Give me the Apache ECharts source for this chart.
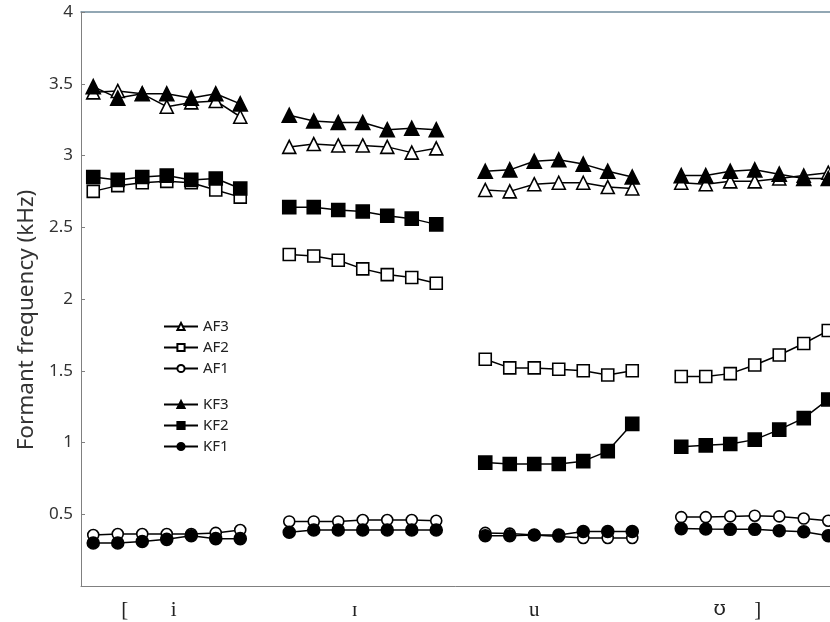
<!DOCTYPE html>
<html>
<head>
<meta charset="utf-8">
<script src="https://cdn.jsdelivr.net/npm/echarts@6/dist/echarts.min.js"></script>
<style>
  html, body { margin: 0; padding: 0; background: #fff; }
  #chart { width: 830px; height: 622px; }
</style>
</head>
<body>
<div id="chart"></div>
<script>
// one gap category between vowel groups, 7 speakers/points per group
const xTickLabels = ['', '[', '', 'i', '', '', '', '',
  '', '', '', 'ɪ', '', '', '', '',
  '', '', 'u', '', '', '', '', '',
  '', 'ʊ', '', ']', '', '', '', '', '']
const yTicks = [0, 0.5, 1, 1.5, 2, 2.5, 3, 3.5, 4]

const AF3 = [[3.44, 3.45, 3.43, 3.34, 3.37, 3.38, 3.27], [3.06, 3.08, 3.07, 3.07, 3.06, 3.02, 3.05], [2.76, 2.75, 2.80, 2.81, 2.81, 2.78, 2.77], [2.81, 2.80, 2.82, 2.82, 2.84, 2.86, 2.88]]
const AF2 = [[2.75, 2.79, 2.81, 2.82, 2.81, 2.76, 2.71], [2.31, 2.30, 2.27, 2.21, 2.17, 2.15, 2.11], [1.58, 1.52, 1.52, 1.51, 1.50, 1.47, 1.50], [1.46, 1.46, 1.48, 1.54, 1.61, 1.69, 1.78]]
const AF1 = [[0.355, 0.362, 0.362, 0.362, 0.362, 0.37, 0.39], [0.45, 0.45, 0.45, 0.46, 0.46, 0.46, 0.455], [0.37, 0.365, 0.355, 0.345, 0.335, 0.335, 0.335], [0.48, 0.48, 0.485, 0.49, 0.485, 0.47, 0.455]]
const KF3 = [[3.48, 3.40, 3.43, 3.43, 3.40, 3.43, 3.36], [3.28, 3.24, 3.23, 3.23, 3.18, 3.19, 3.18], [2.89, 2.90, 2.96, 2.97, 2.94, 2.89, 2.85], [2.86, 2.86, 2.89, 2.90, 2.87, 2.84, 2.84]]
const KF2 = [[2.85, 2.83, 2.85, 2.86, 2.83, 2.84, 2.77], [2.64, 2.64, 2.62, 2.61, 2.58, 2.56, 2.52], [0.86, 0.85, 0.85, 0.85, 0.87, 0.94, 1.13], [0.97, 0.98, 0.99, 1.02, 1.09, 1.17, 1.30]]
const KF1 = [[0.30, 0.30, 0.31, 0.325, 0.35, 0.33, 0.33], [0.375, 0.39, 0.39, 0.39, 0.39, 0.39, 0.39], [0.35, 0.35, 0.355, 0.355, 0.38, 0.38, 0.38], [0.40, 0.397, 0.395, 0.395, 0.385, 0.378, 0.35]]

// groups joined with a '-' so the line breaks between vowels
function flat(groups) {
  let out = []
  groups.forEach((g, i) => {
    if (i > 0) out.push('-')
    out = out.concat(g)
  })
  return out
}

function mkSeries(name, groups, symbol, size, filled) {
  return {
    name: name,
    type: 'line',
    data: flat(groups),
    symbol: symbol,
    symbolSize: size,
    showAllSymbol: true,
    lineStyle: { color: '#000', width: 1.5 },
    itemStyle: { color: filled ? '#000' : '#fff', borderColor: '#000', borderWidth: 1.6 },
    emphasis: { disabled: true },
    animation: false
  }
}

const legendText = { fontFamily: 'Noto Sans', fontSize: 15, color: '#222' }
const ipaFont = 'Liberation Serif, DejaVu Serif'

const myEcharts = echarts.init(document.getElementById('chart'))
myEcharts.setOption({
  backgroundColor: '#fff',
  // plot runs past the right edge of the picture, as in the original
  grid: { left: 81, top: 12, width: 808.5, height: 574, containLabel: false, outerBoundsMode: 'none' },
  legend: [{
    data: ['AF3', 'AF2', 'AF1'],
    orient: 'vertical', left: 158, top: 314,
    itemWidth: 34, itemHeight: 9, itemGap: 6,
    textStyle: legendText
  }, {
    data: ['KF3', 'KF2', 'KF1'],
    orient: 'vertical', left: 158, top: 392,
    itemWidth: 34, itemHeight: 9, itemGap: 6,
    textStyle: legendText
  }],
  xAxis: [{
    type: 'category',
    data: xTickLabels,
    boundaryGap: true,
    axisLine: { lineStyle: { color: '#808080', width: 1 } },
    axisTick: { inside: true, length: 4, interval: 0, lineStyle: { color: '#808080' } },
    axisLabel: {
      interval: 0, margin: 14, color: '#222',
      fontFamily: ipaFont, fontSize: 21,
      formatter: (v) => {
        if (v === '[' || v === 'i') return '{r|' + v + '}'
        if (v === 'ɪ') return '{l|' + v + '}'
        if (v === 'ʊ') return '{rr|' + v + '}'
        if (v === ']') return '{s|' + v + '}'
        return v
      },
      rich: {
        r: { padding: [0, 0, 0, 14], fontSize: 21, fontFamily: ipaFont },
        l: { padding: [0, 16, 0, 0], fontSize: 21, fontFamily: ipaFont },
        rr: { padding: [0, 0, 0, 28], fontSize: 20, fontFamily: 'DejaVu Serif' },
        s: { padding: [0, 0, 0, 6], fontSize: 21, fontFamily: ipaFont }
      }
    },
    splitLine: { show: false }
  }, {
    type: 'category',
    position: 'top',
    data: xTickLabels,
    axisLine: { lineStyle: { color: '#6f8b9c', width: 1.5 } },
    axisTick: { show: false },
    axisLabel: { show: false }
  }],
  yAxis: {
    type: 'value',
    min: yTicks[0], max: yTicks[yTicks.length - 1], interval: 0.5,
    name: 'Formant frequency (kHz)',
    nameLocation: 'middle', nameRotate: 90, nameGap: 43,
    nameTextStyle: { fontFamily: 'Noto Sans', fontSize: 22.5, color: '#333', padding: [0, 42, 0, 0] },
    axisLine: { show: true, lineStyle: { color: '#808080' } },
    axisTick: { show: true, inside: true, length: 4, lineStyle: { color: '#808080' } },
    axisLabel: {
      color: '#333', fontFamily: 'Noto Sans', fontSize: 17, margin: 8,
      formatter: (v) => v === 0 ? '' : String(v)
    },
    splitLine: { show: false }
  },
  series: [
    mkSeries('AF3', AF3, 'triangle', 13, false),
    mkSeries('AF2', AF2, 'rect', 12, false),
    mkSeries('AF1', AF1, 'circle', 11, false),
    mkSeries('KF3', KF3, 'triangle', 14, true),
    mkSeries('KF2', KF2, 'rect', 13, true),
    mkSeries('KF1', KF1, 'circle', 12, true)
  ]
})
</script>
</body>
</html>
